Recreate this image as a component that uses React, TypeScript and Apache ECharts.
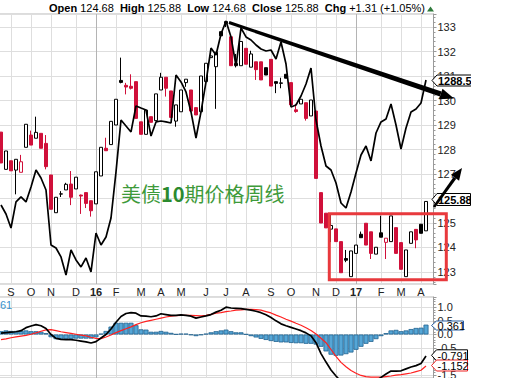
import React, { useEffect, useRef } from "react";
import * as echarts from "echarts";

const FONT = '"Liberation Sans", Arial, Helvetica, sans-serif';
const CJK_FONT = '"Noto Sans CJK SC", "Noto Sans", sans-serif';
const RED = "#d0103a";

// Weekly bars, dated by their Friday
const FIRST_WEEK = Date.UTC(2015, 7, 28);
const DAY = 86400000;
const categories: string[] = Array.from({ length: 87 }, (_, i) =>
  new Date(FIRST_WEEK + i * 7 * DAY).toISOString().slice(0, 10)
);
const MONTH_LETTERS = ["J", "F", "M", "A", "M", "J", "J", "A", "S", "O", "N", "D"];

// T-Note futures weekly OHLC
const opens = [
  128.71, 127.19, 127.54, 127.16, 127.07, 128.09, 128.59, 128.46, 128.66, 128.25,
  126.96, 125.42, 126.18, 126.35, 126.59, 126.39, 126.14, 126.24, 125.91, 125.78,
  126.92, 128.05, 128.2, 129.0, 130.82, 130.62, 130.58, 130.77, 129.13, 128.62,
  129.34, 129.18, 130.43, 130.95, 130.39, 129.16, 129.54, 130.73, 130.43, 129.71,
  129.54, 130.77, 131.75, 131.38, 132.81, 133.22, 132.6, 131.42, 131.42, 132.13,
  131.36, 131.58, 131.58, 131.34, 131.68, 130.77, 130.7, 131.07, 130.73, 129.62,
  129.86, 129.91, 129.37, 129.57, 126.24, 125.4, 124.75, 124.76, 124.24, 123.55,
  122.81, 123.76, 124.54, 124.99, 124.64, 123.73, 124.6, 124.21, 124.24, 124.81,
  124.2, 122.81, 124.17, 124.74, 124.95, 124.68,
];
const closes = [
  127.45, 127.94, 127.13, 127.6, 127.5, 129.03, 128.18, 128.7, 128.05, 127.3,
  125.56, 126.05, 126.19, 126.58, 126.05, 126.87, 126.1, 125.8, 125.5, 127.09,
  128.09, 127.95, 129.15, 130.05, 130.74, 130.55, 130.5, 129.27, 128.62, 129.61,
  129.11, 130.27, 130.95, 130.5, 129.31, 129.82, 130.43, 130.87, 129.57, 129.41,
  131.0, 131.52, 131.82, 131.97, 132.64, 133.15, 131.42, 131.52, 132.41, 131.48,
  131.9, 131.26, 130.84, 131.04, 130.59, 130.7, 130.72, 130.91, 129.82, 129.55,
  130.05, 129.27, 130.02, 126.82, 125.0, 124.8, 124.9, 124.24, 122.97, 123.48,
  123.86, 124.1, 124.4, 124.1, 123.76, 124.01, 124.42, 124.38, 125.29, 123.76,
  123.11, 123.9, 124.64, 124.31, 124.58, 125.88,
];
const lows = [
  127.45, 127.19, 127.13, 126.17, 127.07, 128.09, 128.18, 128.46, 128.05, 127.19,
  125.56, 125.42, 126.06, 126.35, 125.73, 126.39, 125.37, 125.61, 125.26, 125.78,
  126.92, 127.95, 128.2, 129.0, 130.7, 130.25, 130.45, 129.27, 128.62, 128.62,
  129.11, 129.18, 130.43, 130.16, 129.31, 128.93, 129.54, 130.56, 129.57, 129.41,
  129.54, 130.77, 131.75, 129.66, 132.64, 133.0, 131.42, 131.35, 131.42, 131.48,
  131.36, 130.84, 130.84, 131.04, 130.59, 130.3, 130.5, 130.91, 129.82, 129.5,
  129.86, 129.18, 129.37, 126.82, 125.0, 124.8, 124.22, 124.24, 122.97, 123.4,
  122.81, 123.76, 124.4, 124.1, 123.53, 123.73, 124.42, 123.53, 124.24, 123.76,
  123.11, 122.81, 124.17, 123.97, 124.58, 124.68,
];
const highs = [
  128.71, 127.94, 127.54, 127.6, 127.78, 129.03, 128.77, 129.34, 128.66, 128.59,
  126.96, 126.05, 126.3, 126.64, 127.12, 126.87, 126.16, 126.24, 125.91, 127.09,
  128.09, 128.48, 129.15, 130.05, 131.75, 130.72, 131.07, 130.77, 129.13, 129.61,
  129.34, 130.27, 131.13, 130.95, 130.39, 129.82, 130.43, 130.87, 130.43, 129.71,
  131.0, 131.52, 131.82, 131.97, 132.81, 133.25, 132.6, 131.9, 132.41, 132.13,
  132.03, 131.58, 131.58, 131.34, 131.68, 130.77, 130.93, 131.07, 130.73, 129.86,
  130.05, 129.91, 130.02, 129.57, 126.24, 125.4, 125.4, 124.76, 124.24, 123.9,
  123.86, 124.1, 124.65, 124.99, 124.64, 124.01, 125.3, 124.38, 125.29, 124.81,
  124.2, 123.9, 124.64, 124.74, 124.95, 125.88,
];
const priorClose = 128.9; // close of the week before the first bar (first bar is red)

// Gold weekly close (overlay line)
const gold = [
  1136.0, 1125.0, 1107.9, 1139.7, 1145.8, 1139.7, 1158.0, 1178.7, 1168.9, 1154.3,
  1087.2, 1083.5, 1072.6, 1050.6, 1081.1, 1068.9, 1060.4, 1071.3, 1054.3, 1101.8,
  1087.2, 1097.0, 1120.1, 1176.3, 1239.7, 1232.4, 1225.1, 1256.8, 1254.3, 1251.9,
  1220.2, 1237.3, 1238.5, 1237.3, 1236.0, 1294.6, 1286.1, 1273.9, 1249.5, 1217.7,
  1249.5, 1286.1, 1327.5, 1319.0, 1344.6, 1360.5, 1341.0, 1305.6, 1351.9, 1341.0,
  1337.3, 1331.2, 1326.3, 1323.9, 1325.1, 1314.1, 1334.9, 1308.0, 1255.6, 1258.0,
  1269.0, 1283.6, 1303.1, 1239.7, 1208.0, 1183.6, 1178.7, 1162.8, 1138.4, 1132.3,
  1151.9, 1175.0, 1197.0, 1208.0, 1189.7, 1223.8, 1237.3, 1240.9, 1259.2, 1233.6,
  1204.3, 1229.9, 1249.5, 1253.1, 1260.4, 1288.5,
];

// MACD(12,26,9)
const macd = [
  0.05, 0.07, 0.09, 0.1, 0.14, 0.25, 0.31, 0.36, 0.32, 0.22,
  0.0, -0.14, -0.18, -0.19, -0.19, -0.21, -0.24, -0.27, -0.31, -0.26,
  -0.13, 0.0, 0.2, 0.45, 0.66, 0.77, 0.8, 0.78, 0.68, 0.67,
  0.65, 0.68, 0.76, 0.73, 0.7, 0.7, 0.72, 0.7, 0.67, 0.6,
  0.64, 0.68, 0.73, 0.82, 0.89, 1.0, 0.97, 0.96, 0.95, 0.92,
  0.89, 0.85, 0.8, 0.72, 0.62, 0.5, 0.39, 0.32, 0.26, 0.2,
  0.14, 0.06, -0.05, -0.3, -0.7, -1.01, -1.3, -1.52, -1.72, -1.87,
  -1.97, -2.0, -1.96, -1.88, -1.8, -1.69, -1.57, -1.45, -1.34, -1.34,
  -1.33, -1.26, -1.19, -1.14, -1.06, -0.791,
];
const signal = [
  -0.19, -0.16, -0.12, -0.09, -0.06, -0.03, 0.01, 0.06, 0.12, 0.17,
  0.18, 0.14, 0.1, 0.07, 0.04, 0.01, -0.02, -0.05, -0.1, -0.14,
  -0.15, -0.09, -0.02, 0.07, 0.14, 0.21, 0.28, 0.36, 0.43, 0.48,
  0.52, 0.56, 0.6, 0.64, 0.67, 0.69, 0.7, 0.7, 0.7, 0.69,
  0.68, 0.7, 0.74, 0.78, 0.8, 0.84, 0.86, 0.89, 0.9, 0.92,
  0.92, 0.91, 0.89, 0.84, 0.79, 0.71, 0.64, 0.56, 0.49, 0.41,
  0.34, 0.25, 0.15, 0.02, -0.14, -0.3, -0.55, -0.8, -1.02, -1.18,
  -1.32, -1.42, -1.5, -1.54, -1.56, -1.56, -1.56, -1.54, -1.52, -1.49,
  -1.47, -1.44, -1.41, -1.36, -1.31, -1.152,
];
const histogram = [
  0.12, 0.15, 0.13, 0.13, 0.13, 0.15, 0.12, 0.12, 0.1, 0.05,
  -0.1, -0.17, -0.18, -0.17, -0.17, -0.15, -0.15, -0.15, -0.15, -0.1,
  0.03, 0.13, 0.29, 0.43, 0.43, 0.43, 0.43, 0.34, 0.19, 0.18,
  0.1, 0.1, 0.13, 0.1, 0.06, 0.01, 0.03, 0.03, -0.02, -0.06,
  -0.02, 0.03, 0.08, 0.12, 0.15, 0.18, 0.12, 0.08, 0.08, 0.01,
  -0.06, -0.11, -0.16, -0.2, -0.24, -0.27, -0.29, -0.29, -0.31, -0.32,
  -0.32, -0.34, -0.34, -0.37, -0.45, -0.62, -0.74, -0.78, -0.77, -0.72,
  -0.66, -0.56, -0.45, -0.34, -0.27, -0.17, -0.06, 0.05, 0.15, 0.17,
  0.12, 0.15, 0.2, 0.24, 0.25, 0.361,
];

const header = "{b|Open} 124.68  {b|High} 125.88  {b|Low} 124.68  {b|Close} 125.88  {b|Chg} +1.31 (+1.05%)";
const annotation = "美债{n|10}期价格周线";
const lastPrice = "125.88";
const lastGold = "1288.50";
const lastHist = "0.361";
const lastMacd = "-0.791";
const lastSignal = "-1.152";

// axis ranges
const PRICE_MIN = 122.51;
const PRICE_MAX = 133.531;
const GOLD_MIN = 1039.6;
const GOLD_MAX = 1369.0;
const MACD_MIN = -1.5934;
const MACD_MAX = 1.3736;

function mondayOf(c: string) {
  return new Date(Date.parse(c) - 4 * DAY);
}
const weekLabels = categories.map((c, i) => {
  if (i === 0) return "";
  const m = mondayOf(c);
  const pm = mondayOf(categories[i - 1]);
  if (m.getUTCMonth() === pm.getUTCMonth()) return "";
  return m.getUTCMonth() === 0 ? String(m.getUTCFullYear()).slice(2) : MONTH_LETTERS[m.getUTCMonth()];
});

function badge(x: number, yc: number, h: number, right: number, text: string, stroke: string, bold: boolean) {
  const top = yc - h / 2;
  const bot = yc + h / 2;
  return [
    {
      type: "polygon",
      z: 100,
      shape: { points: [[x, yc], [x + 5, top], [right, top], [right, bot], [x + 5, bot]] },
      style: { fill: "#fff", stroke, lineWidth: 1 },
    },
    {
      type: "text",
      z: 101,
      x: x + 6,
      y: yc + 0.5,
      style: {
        text,
        fill: "#000",
        fontSize: 11,
        fontFamily: FONT,
        fontWeight: bold ? "bold" : "normal",
        verticalAlign: "middle",
        align: "left",
      },
    },
  ];
}

function arrow(x1: number, y1: number, x2: number, y2: number, w1: number, w2: number, headLen: number, headHalf: number) {
  const dx = x2 - x1;
  const dy = y2 - y1;
  const len = Math.sqrt(dx * dx + dy * dy);
  const ux = dx / len;
  const uy = dy / len;
  const px = -uy;
  const py = ux;
  const bx = x2 - ux * headLen;
  const by = y2 - uy * headLen;
  return [
    {
      type: "polygon",
      z: 110,
      shape: {
        points: [
          [x1 + px * w1, y1 + py * w1],
          [bx + px * w2, by + py * w2],
          [bx - px * w2, by - py * w2],
          [x1 - px * w1, y1 - py * w1],
        ],
      },
      style: { fill: "#000" },
    },
    {
      type: "polygon",
      z: 110,
      shape: {
        points: [
          [x2, y2],
          [bx + px * headHalf, by + py * headHalf],
          [bx - px * headHalf, by - py * headHalf],
        ],
      },
      style: { fill: "#000" },
    },
  ];
}

export default function App() {
  const ref = useRef<HTMLDivElement>(null);

  useEffect(() => {
    if (!ref.current) return;
    const chart = echarts.init(ref.current, undefined, { renderer: "svg" });

    const candleData = opens.map((o, i) => {
      const c = closes[i];
      const prev = i > 0 ? closes[i - 1] : priorClose;
      const stroke = c < prev ? RED : "#000";
      const fill = c >= o ? "#fff" : stroke;
      return {
        value: [o, c, lows[i], highs[i]],
        itemStyle: { color: fill, color0: fill, borderColor: stroke, borderColor0: stroke, borderWidth: 1 },
      };
    });

    const vLines = weekLabels
      .map((l, i) => ({ l, i }))
      .filter((d) => d.l !== "")
      .map((d) => ({
        xAxis: categories[d.i],
        lineStyle: { color: /^\d/.test(d.l) ? "#b4b4b4" : "#dedede", width: 1, type: "solid" },
      }));

    const markLineBase = {
      silent: true,
      symbol: ["none", "none"],
      label: { show: false },
      z: 1,
      animation: false,
      data: vLines,
    };

    const yLabel = { color: "#222", fontSize: 11, fontFamily: FONT, margin: 4, showMinLabel: false, showMaxLabel: false };

    const option: any = {
      animation: false,
      backgroundColor: "#fff",
      grid: [
        { left: -1.5, top: 14, width: 435, height: 270, show: true, borderColor: "#b8b8b8", borderWidth: 1, outerBoundsMode: "none", containLabel: false },
        { left: -1.5, top: 297, width: 435, height: 81, show: true, borderColor: "#b8b8b8", borderWidth: 1, outerBoundsMode: "none", containLabel: false },
      ],
      xAxis: [
        {
          type: "category",
          gridIndex: 0,
          data: categories,
          boundaryGap: true,
          axisLine: { show: false },
          axisTick: { show: false },
          splitLine: { show: false },
          axisLabel: {
            interval: (i: number) => weekLabels[i] !== "",
            formatter: (_v: string, i: number) => (/^\d/.test(weekLabels[i]) ? `{y|${weekLabels[i]}}` : weekLabels[i]),
            margin: 2,
            color: "#222",
            fontSize: 11,
            fontFamily: FONT,
            hideOverlap: false,
            rich: { y: { fontWeight: "bold", fontSize: 11, fontFamily: FONT, color: "#222" } },
          },
        },
        {
          type: "category",
          gridIndex: 1,
          data: categories,
          boundaryGap: true,
          axisLine: { show: false },
          axisTick: { show: false },
          axisLabel: { show: false },
          splitLine: { show: false },
        },
      ],
      yAxis: [
        {
          type: "value",
          gridIndex: 0,
          position: "right",
          min: PRICE_MIN,
          max: PRICE_MAX,
          splitNumber: 11,
          axisLine: { show: true, lineStyle: { color: "#9a9a9a" } },
          axisTick: { show: true, length: 3, lineStyle: { color: "#9a9a9a" } },
          minorTick: { show: true, splitNumber: 5, length: 2, lineStyle: { color: "#9a9a9a" } },
          axisLabel: yLabel,
          splitLine: { show: true, lineStyle: { color: "#dedede", width: 1 } },
        },
        {
          type: "value",
          gridIndex: 0,
          position: "left",
          min: GOLD_MIN,
          max: GOLD_MAX,
          show: false,
        },
        {
          type: "value",
          gridIndex: 1,
          position: "right",
          min: MACD_MIN,
          max: MACD_MAX,
          splitNumber: 6,
          axisLine: { show: true, lineStyle: { color: "#9a9a9a" } },
          axisTick: { show: true, length: 3, lineStyle: { color: "#9a9a9a" } },
          minorTick: { show: true, splitNumber: 5, length: 2, lineStyle: { color: "#9a9a9a" } },
          axisLabel: { ...yLabel, formatter: (v: number) => v.toFixed(1) },
          splitLine: { show: true, lineStyle: { color: "#dedede", width: 1 } },
        },
      ],
      series: [
        {
          type: "candlestick",
          xAxisIndex: 0,
          yAxisIndex: 0,
          barWidth: 3.8,
          silent: true,
          z: 2,
          data: candleData,
          markLine: markLineBase,
        },
        {
          type: "line",
          xAxisIndex: 0,
          yAxisIndex: 1,
          data: gold,
          symbol: "none",
          silent: true,
          z: 3,
          lineStyle: { color: "#000", width: 1.7 },
        },
        {
          type: "bar",
          xAxisIndex: 1,
          yAxisIndex: 2,
          data: histogram,
          barCategoryGap: "0%",
          silent: true,
          z: 2,
          itemStyle: { color: "#55a6d6", borderColor: "#21628f", borderWidth: 0.8 },
          markLine: markLineBase,
        },
        {
          type: "line",
          xAxisIndex: 1,
          yAxisIndex: 2,
          data: macd,
          symbol: "none",
          silent: true,
          z: 4,
          lineStyle: { color: "#000", width: 1.7 },
        },
        {
          type: "line",
          xAxisIndex: 1,
          yAxisIndex: 2,
          data: signal,
          symbol: "none",
          silent: true,
          z: 3,
          lineStyle: { color: "#ff2020", width: 1.2 },
        },
      ],
      graphic: [
        {
          type: "text",
          z: 100,
          x: 49,
          y: 8,
          style: {
            text: header,
            fill: "#000",
            fontSize: 11,
            fontFamily: FONT,
            verticalAlign: "middle",
            rich: { b: { fontWeight: "bold", fontSize: 11, fontFamily: FONT, fill: "#000" } },
          },
        },
        {
          type: "polygon",
          z: 100,
          shape: { points: [[427, 11.5], [434, 11.5], [430.5, 6.5]] },
          style: { fill: "#2f7a3b" },
        },
        {
          type: "text",
          z: 100,
          x: 121,
          y: 193,
          style: {
            text: annotation,
            fill: "#3e9a3a",
            fontSize: 20,
            fontFamily: CJK_FONT,
            verticalAlign: "middle",
            rich: { n: { fontWeight: "bold", fontSize: 20, fontFamily: CJK_FONT, fill: "#2b8a2e" } },
          },
        },
        {
          type: "text",
          z: 100,
          x: 0,
          y: 305,
          style: { text: "61", fill: "#3a93cc", fontSize: 11, fontFamily: FONT, verticalAlign: "middle" },
        },
        {
          type: "rect",
          z: 100,
          shape: { x: 329.3, y: 213.7, width: 117, height: 66 },
          style: { fill: "none", stroke: "#e8393d", lineWidth: 3 },
        },
        ...badge(432, 80.5, 11, 485, lastGold, "#000", true),
        ...badge(432, 199.5, 12, 470.5, lastPrice, "#000", true),
        ...badge(431.5, 325.5, 9, 463.5, lastHist, "#2a5fa0", false),
        ...badge(431.5, 355.3, 11, 467.5, lastMacd, "#000", false),
        ...badge(431.5, 365.5, 11, 467.5, lastSignal, "#ee2222", false),
        ...arrow(229, 22.5, 454, 98.5, 1.5, 2.6, 14, 5.5),
        ...arrow(434, 207, 462, 168, 1.3, 1.6, 12, 5),
        {
          type: "rect",
          z: 120,
          shape: { x: 471, y: 0, width: 45, height: 378 },
          style: { fill: "#fff" },
        },
      ],
    };

    chart.setOption(option);
    return () => chart.dispose();
  }, []);

  return (
    <div
      ref={ref}
      style={{ position: "fixed", left: 0, top: 0, width: 516, height: 378, background: "#fff" }}
    />
  );
}
